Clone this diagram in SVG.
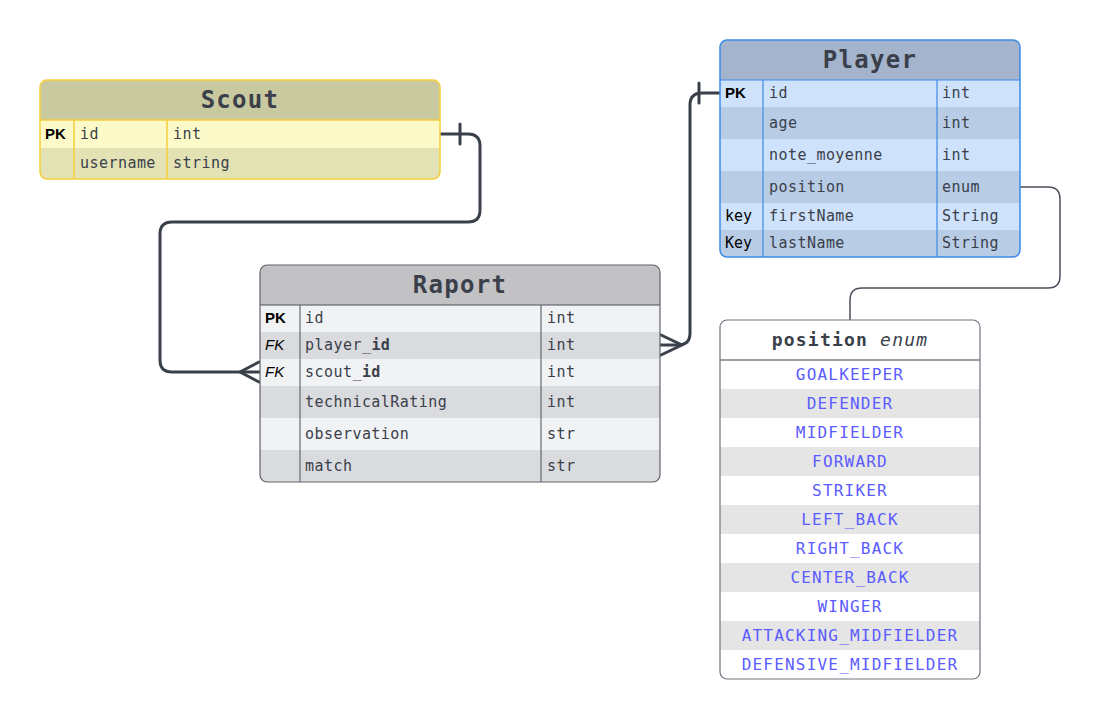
<svg xmlns="http://www.w3.org/2000/svg" width="1101" height="719" viewBox="0 0 1101 719">
<style>
.title{font-family:"DejaVu Sans Mono",monospace;font-weight:bold;font-size:24px;letter-spacing:1.3px;fill:#3a3f4a;text-anchor:middle}
.txt{font-family:"DejaVu Sans Mono",monospace;font-size:15px;letter-spacing:0.45px;fill:#3a3f4a}
.b{font-weight:bold}
.pk{font-family:"Liberation Sans",Arial,sans-serif;font-weight:bold;font-size:15px;fill:#000}
.fk{font-family:"Liberation Sans",Arial,sans-serif;font-style:italic;font-size:15px;fill:#000}
.key{font-family:"DejaVu Sans Mono",monospace;font-size:15px;fill:#000}
.ev{font-family:"DejaVu Sans Mono",monospace;font-size:16px;letter-spacing:1.2px;fill:#5b5bff;text-anchor:middle}
.eh{font-family:"DejaVu Sans Mono",monospace;font-size:18px;letter-spacing:1.2px;fill:#3a3f4a;text-anchor:middle}
.conn{fill:none;stroke:#3a404a;stroke-width:3;stroke-linecap:round;stroke-linejoin:round}
.thin{fill:none;stroke:#4a505a;stroke-width:1.5}
</style>
<defs>
<clipPath id="cScout"><rect x="40" y="80" width="400" height="99" rx="7"/></clipPath>
<clipPath id="cRaport"><rect x="260" y="265" width="400" height="217" rx="7"/></clipPath>
<clipPath id="cPlayer"><rect x="720" y="40" width="300" height="217" rx="7"/></clipPath>
<clipPath id="cEnum"><rect x="720" y="320" width="260" height="359" rx="7"/></clipPath>
</defs>
<rect width="1101" height="719" fill="#ffffff"/>

<g id="connectors">
<path class="conn" d="M440,134 H468 Q480,134 480,146 V210 Q480,222 468,222 H172 Q160,222 160,234 V360 Q160,372 172,372 H260"/>
<path class="conn" d="M460,124 V144"/>
<path class="conn" d="M259,362 L240,372 L259,382"/>
<path class="conn" d="M720,93 H702 Q690,93 690,105 V333 Q690,345 678,345 H660"/>
<path class="conn" d="M699,83 V103"/>
<path class="conn" d="M661,335 L682,345 L661,355"/>
<path class="thin" d="M1020,187 H1048 Q1060,187 1060,199 V276 Q1060,288 1048,288 H862 Q850,288 850,300 V320"/>
</g>

<g id="scout">
<g clip-path="url(#cScout)">
<rect x="40" y="80" width="400" height="40" fill="#c9c9a0"/>
<rect x="40" y="120" width="400" height="28" fill="#fcfac8"/>
<rect x="40" y="148" width="400" height="31" fill="#e3e2b5"/>
</g>
<line x1="40" y1="120" x2="440" y2="120" stroke="#f5cf3a" stroke-width="1.5"/>
<line x1="74" y1="120" x2="74" y2="179" stroke="#f5cf3a" stroke-width="1.5"/>
<line x1="167" y1="120" x2="167" y2="179" stroke="#f5cf3a" stroke-width="1.5"/>
<rect x="40" y="80" width="400" height="99" rx="7" fill="none" stroke="#f5cf3a" stroke-width="1.5"/>
<text class="title" x="240" y="108">Scout</text>
<text class="pk" x="45" y="139">PK</text>
<text class="txt" x="80" y="139">id</text>
<text class="txt" x="173" y="139">int</text>
<text class="txt" x="80" y="168">username</text>
<text class="txt" x="173" y="168">string</text>
</g>

<g id="raport">
<g clip-path="url(#cRaport)">
<rect x="260" y="265" width="400" height="40" fill="#c2c2c5"/>
<rect x="260" y="305" width="400" height="27" fill="#f1f2f4"/>
<rect x="260" y="332" width="400" height="27" fill="#dadbde"/>
<rect x="260" y="359" width="400" height="27" fill="#f1f2f4"/>
<rect x="260" y="386" width="400" height="32" fill="#dadbde"/>
<rect x="260" y="418" width="400" height="32" fill="#f1f2f4"/>
<rect x="260" y="450" width="400" height="32" fill="#dadbde"/>
</g>
<line x1="260" y1="305" x2="660" y2="305" stroke="#4a505a" stroke-width="1"/>
<line x1="300" y1="305" x2="300" y2="482" stroke="#4a505a" stroke-width="1"/>
<line x1="541" y1="305" x2="541" y2="482" stroke="#4a505a" stroke-width="1"/>
<rect x="260" y="265" width="400" height="217" rx="7" fill="none" stroke="#60646b" stroke-width="1.2"/>
<text class="title" x="460" y="293">Raport</text>
<text class="pk" x="265" y="323">PK</text>
<text class="txt" x="305" y="323">id</text>
<text class="txt" x="547" y="323">int</text>
<text class="fk" x="265" y="350">FK</text>
<text class="txt" x="305" y="350">player_<tspan class="b">id</tspan></text>
<text class="txt" x="547" y="350">int</text>
<text class="fk" x="265" y="377">FK</text>
<text class="txt" x="305" y="377">scout_<tspan class="b">id</tspan></text>
<text class="txt" x="547" y="377">int</text>
<text class="txt" x="305" y="407">technicalRating</text>
<text class="txt" x="547" y="407">int</text>
<text class="txt" x="305" y="439">observation</text>
<text class="txt" x="547" y="439">str</text>
<text class="txt" x="305" y="471">match</text>
<text class="txt" x="547" y="471">str</text>
</g>

<g id="player">
<g clip-path="url(#cPlayer)">
<rect x="720" y="40" width="300" height="40" fill="#a3b4cc"/>
<rect x="720" y="80" width="300" height="27" fill="#cfe2fc"/>
<rect x="720" y="107" width="300" height="32" fill="#b8cce6"/>
<rect x="720" y="139" width="300" height="32" fill="#cfe2fc"/>
<rect x="720" y="171" width="300" height="32" fill="#b8cce6"/>
<rect x="720" y="203" width="300" height="27" fill="#cfe2fc"/>
<rect x="720" y="230" width="300" height="27" fill="#b8cce6"/>
</g>
<line x1="720" y1="80" x2="1020" y2="80" stroke="#3d8ae6" stroke-width="1.2"/>
<line x1="763" y1="80" x2="763" y2="257" stroke="#3d8ae6" stroke-width="1.2"/>
<line x1="937" y1="80" x2="937" y2="257" stroke="#3d8ae6" stroke-width="1.2"/>
<rect x="720" y="40" width="300" height="217" rx="7" fill="none" stroke="#3d8ae6" stroke-width="1.5"/>
<text class="title" x="870" y="68">Player</text>
<text class="pk" x="725" y="98">PK</text>
<text class="txt" x="769" y="98">id</text>
<text class="txt" x="942" y="98">int</text>
<text class="txt" x="769" y="128">age</text>
<text class="txt" x="942" y="128">int</text>
<text class="txt" x="769" y="160">note_moyenne</text>
<text class="txt" x="942" y="160">int</text>
<text class="txt" x="769" y="192">position</text>
<text class="txt" x="942" y="192">enum</text>
<text class="key" x="725" y="221">key</text>
<text class="txt" x="769" y="221">firstName</text>
<text class="txt" x="942" y="221">String</text>
<text class="key" x="725" y="248">Key</text>
<text class="txt" x="769" y="248">lastName</text>
<text class="txt" x="942" y="248">String</text>
</g>

<g id="position-enum">
<g clip-path="url(#cEnum)">
<rect x="720" y="320" width="260" height="359" fill="#ffffff"/>
<rect x="720" y="389" width="260" height="29" fill="#e5e5e5"/>
<rect x="720" y="447" width="260" height="29" fill="#e5e5e5"/>
<rect x="720" y="505" width="260" height="29" fill="#e5e5e5"/>
<rect x="720" y="563" width="260" height="29" fill="#e5e5e5"/>
<rect x="720" y="621" width="260" height="29" fill="#e5e5e5"/>
</g>
<line x1="720" y1="360" x2="980" y2="360" stroke="#3a3f4a" stroke-width="1"/>
<rect x="720" y="320" width="260" height="359" rx="7" fill="none" stroke="#707480" stroke-width="1.2"/>
<text class="eh" x="850" y="346"><tspan font-weight="bold">position</tspan> <tspan font-style="italic">enum</tspan></text>
<text class="ev" x="850" y="380">GOALKEEPER</text>
<text class="ev" x="850" y="409">DEFENDER</text>
<text class="ev" x="850" y="438">MIDFIELDER</text>
<text class="ev" x="850" y="467">FORWARD</text>
<text class="ev" x="850" y="496">STRIKER</text>
<text class="ev" x="850" y="525">LEFT_BACK</text>
<text class="ev" x="850" y="554">RIGHT_BACK</text>
<text class="ev" x="850" y="583">CENTER_BACK</text>
<text class="ev" x="850" y="612">WINGER</text>
<text class="ev" x="850" y="641">ATTACKING_MIDFIELDER</text>
<text class="ev" x="850" y="670">DEFENSIVE_MIDFIELDER</text>
</g>
</svg>
